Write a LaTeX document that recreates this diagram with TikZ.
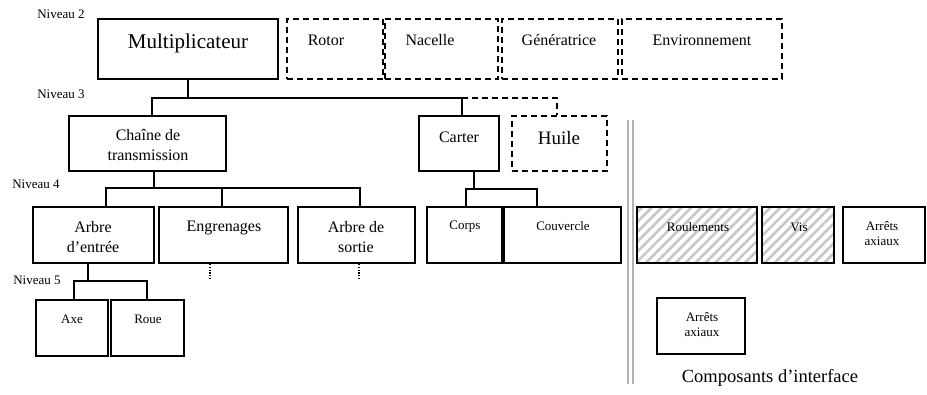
\documentclass[tikz,border=0pt]{standalone}
\usepackage{fontspec}
\setmainfont{Liberation Serif}
\usetikzlibrary{patterns.meta}
\begin{document}
\begin{tikzpicture}[x=1pt,y=-1pt,
  box/.style={draw, line width=1.8pt, inner sep=0pt, rectangle},
  dbox/.style={box, dash pattern=on 6pt off 4pt},
  hbox/.style={box, pattern={Lines[angle=45,distance=7pt,line width=2.6pt]}, pattern color=black!22},
  conn/.style={line width=1.8pt},
  dconn/.style={line width=1.8pt, dash pattern=on 6pt off 4pt},
  dots/.style={line width=1.2pt, dash pattern=on 1.2pt off 1.6pt},
  sep/.style={line width=1.6pt, draw=black!30},
  lvl/.style={font=\fontsize{13}{15}\selectfont, inner sep=0pt},
  tbig/.style={font=\fontsize{21}{24}\selectfont, inner sep=0pt},
  thuile/.style={font=\fontsize{19}{22}\selectfont, inner sep=0pt},
  tmid/.style={font=\fontsize{16}{19.5}\selectfont, align=center, inner sep=0pt},
  tsmall/.style={font=\fontsize{13}{15}\selectfont, align=center, inner sep=0pt},
  tcap/.style={font=\fontsize{18.5}{21}\selectfont, inner sep=0pt}]
\useasboundingbox (0,0) rectangle (927,394);

% Level labels
\node[lvl] (n2) at (61,14) {Niveau 2};
\node[lvl] (n3) at (61,94) {Niveau 3};
\node[lvl] (n4) at (36,184) {Niveau 4};
\node[lvl] (n5) at (37,280) {Niveau 5};

% Level 2
\node[box, minimum width=180pt, minimum height=60pt] (mult) at (188,49) {};
\node[tbig] (multT) at (188,43) {Multiplicateur};
\node[dbox, minimum width=96pt, minimum height=60pt] (rotor) at (335,49) {};
\node[tmid] (rotorT) at (326,40) {Rotor};
\node[dbox, minimum width=113pt, minimum height=60pt] (nac) at (441.5,49) {};
\node[tmid] (nacT) at (430,40) {Nacelle};
\node[dbox, minimum width=116pt, minimum height=60pt] (gen) at (560,49) {};
\node[tmid] (genT) at (559,40) {Génératrice};
\node[dbox, minimum width=160pt, minimum height=60pt] (env) at (702,49) {};
\node[tmid] (envT) at (702,40) {Environnement};

% Level 3
\node[box, minimum width=157pt, minimum height=55pt] (chaine) at (147.5,143.5) {};
\node[tmid] (chaineT) at (148,145) {Chaîne de\\transmission};
\node[box, minimum width=80pt, minimum height=55pt] (carter) at (459,143.5) {};
\node[tmid] (carterT) at (459,137) {Carter};
\node[dbox, minimum width=95pt, minimum height=55pt] (huile) at (559.5,143.5) {};
\node[thuile] (huileT) at (559,138) {Huile};

% Level 4
\node[box, minimum width=121pt, minimum height=56pt] (arbE) at (93.5,235) {};
\node[tmid] (arbET) at (93,237) {Arbre\\d’entrée};
\node[box, minimum width=129pt, minimum height=56pt] (engr) at (223.5,235) {};
\node[tmid] (engrT) at (224,228) {Engrenages};
\node[box, minimum width=117pt, minimum height=56pt] (arbS) at (356.5,235) {};
\node[tmid] (arbST) at (356,237) {Arbre de\\sortie};
\node[box, minimum width=75pt, minimum height=56pt] (corps) at (464.5,235) {};
\node[tsmall] (corpsT) at (465,227) {Corps};
\node[box, minimum width=117pt, minimum height=56pt] (couv) at (562.5,235) {};
\node[tsmall] (couvT) at (563,226) {Couvercle};

% Level 5
\node[box, minimum width=72pt, minimum height=56pt] (axe) at (72,328) {};
\node[tsmall] (axeT) at (72,319) {Axe};
\node[box, minimum width=73pt, minimum height=56pt] (roue) at (147.5,328) {};
\node[tsmall] (roueT) at (148,319) {Roue};

% Interface components
\node[hbox, minimum width=120pt, minimum height=56pt] (roul) at (697,235) {};
\node[tsmall] (roulT) at (698,227) {Roulements};
\node[hbox, minimum width=72pt, minimum height=56pt] (vis) at (798,235) {};
\node[tsmall] (visT) at (799,227) {Vis};
\node[box, minimum width=82pt, minimum height=56pt] (arr1) at (884,235) {};
\node[tsmall] (arr1T) at (882,234) {Arrêts\\axiaux};
\node[box, minimum width=88pt, minimum height=56pt] (arr2) at (701,326) {};
\node[tsmall] (arr2T) at (702,325) {Arrêts\\axiaux};
\node[tcap] (cap) at (770,378) {Composants d’interface};

% separator
\coordinate (sepTop) at (628,120);
\coordinate (sepBot) at (628,384);
\draw[sep] (sepTop) -- (sepBot);
\draw[sep] ([xshift=5pt]sepTop) -- ([xshift=5pt]sepBot);

% Connectors level 2 -> 3
\coordinate (b3) at (0,98);
\draw[conn] (mult.south) -- (mult.south |- b3);
\draw[conn] ([xshift=4.5pt]chaine.north) -- ([xshift=4.5pt]chaine.north |- b3) -- ([xshift=3pt]carter.north |- b3) -- ([xshift=3pt]carter.north);
\draw[dconn] ([xshift=3pt]carter.north |- b3) -- ([xshift=-2.5pt]huile.north |- b3) -- ([xshift=-2.5pt]huile.north);

% Connectors level 3 -> 4
\coordinate (b4) at (0,188);
\draw[conn] ([xshift=6.5pt]chaine.south) -- ([xshift=6.5pt]chaine.south |- b4);
\draw[conn] ([xshift=12.5pt]arbE.north) -- ([xshift=12.5pt]arbE.north |- b4) -- ([xshift=3.5pt]arbS.north |- b4) -- ([xshift=3.5pt]arbS.north);
\draw[conn] ([xshift=-1.5pt]engr.north |- b4) -- ([xshift=-1.5pt]engr.north);

\coordinate (b4c) at (0,189);
\draw[conn] ([xshift=15pt]carter.south) -- ([xshift=15pt]carter.south |- b4c);
\draw[conn] ([xshift=1.5pt]corps.north) -- ([xshift=1.5pt]corps.north |- b4c) -- ([xshift=-25.5pt]couv.north |- b4c) -- ([xshift=-25.5pt]couv.north);

% Connectors level 4 -> 5
\coordinate (b5) at (0,281);
\draw[conn] ([xshift=-5.5pt]arbE.south) -- ([xshift=-5.5pt]arbE.south |- b5);
\draw[conn] ([xshift=2pt]axe.north) -- ([xshift=2pt]axe.north |- b5) -- ([xshift=-0.5pt]roue.north |- b5) -- ([xshift=-0.5pt]roue.north);

% dotted continuations
\coordinate (dEnd) at (0,280);
\draw[dots] ([xshift=-13.5pt]engr.south) -- ([xshift=-13.5pt]engr.south |- dEnd);
\draw[dots] ([xshift=2.5pt]arbS.south) -- ([xshift=2.5pt]arbS.south |- dEnd);
\end{tikzpicture}
\end{document}
